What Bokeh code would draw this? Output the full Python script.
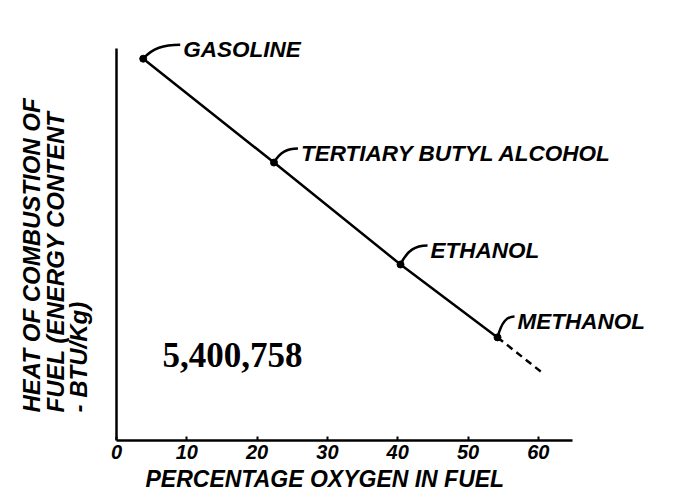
import numpy as np
from bokeh.plotting import figure
from bokeh.models import Label, FixedTicker, Range1d, ColumnDataSource, Title
from bokeh.embed import file_html
from bokeh.resources import INLINE
from bokeh.core.properties import value

# ---------------- data ----------------
fuels = ["GASOLINE", "TERTIARY BUTYL ALCOHOL", "ETHANOL", "METHANOL"]
oxygen_pct = [3.8, 22.4, 40.4, 54.2]          # % oxygen in fuel
heat_rel = [97.4, 70.9, 44.9, 26.3]           # relative heat of combustion (no scale given)
ext_oxygen = [54.2, 60.7]                     # dashed extrapolation
ext_heat = [26.3, 17.1]
x_ticks = [0, 10, 20, 30, 40, 50, 60]
x_axis_end = 64.8
y_axis_end = 100
y_label_lines = ["HEAT OF COMBUSTION OF", "FUEL (ENERGY CONTENT", "- BTU/Kg)"]
x_label = "PERCENTAGE OXYGEN IN FUEL"
note_value = "5,400,758"

# ---------------- layout ----------------
W, H = 700, 503
AX_X, FB = 116, 440          # page x of the y axis (x = 0), frame bottom
FL, FR, FT = 10, 690, 8      # frame left / right / top (px)
SX, SY = 7.03, 3.92          # px per data unit
X0 = -(AX_X - FL) / SX
X1 = (FR - AX_X) / SX
Y0 = 0
Y1 = Y0 + (FB - FT) / SY


def page_to_data(px, py):
    return (px - AX_X) / SX, Y0 + (FB - py) / SY


HAND = "Liberation Sans"

p = figure(width=W, height=H, x_range=Range1d(X0, X1), y_range=Range1d(Y0, Y1),
           output_backend="svg", toolbar_location=None,
           min_border_left=FL, min_border_right=W - FR,
           min_border_top=FT, min_border_bottom=H - FB)
p.grid.visible = False
p.outline_line_color = None
p.background_fill_color = "white"
p.border_fill_color = "white"

# x axis
p.xaxis.ticker = FixedTicker(ticks=x_ticks)
p.xaxis.bounds = (0, x_axis_end)
p.xaxis.axis_line_width = 2.5
p.xaxis.axis_line_color = "black"
p.xaxis.major_tick_in = 4
p.xaxis.major_tick_out = 0
p.xaxis.major_tick_line_width = 2
p.xaxis.minor_tick_line_color = None
p.xaxis.major_label_text_font = HAND
p.xaxis.major_label_text_font_style = "bold italic"
p.xaxis.major_label_text_font_size = "20px"
p.xaxis.major_label_text_color = "black"
p.xaxis.major_label_standoff = 4

# y axis: plain line at x = 0, no ticks
p.yaxis.ticker = FixedTicker(ticks=[])
p.yaxis.fixed_location = 0
p.yaxis.bounds = (0, y_axis_end)
p.yaxis.axis_line_width = 2.5
p.yaxis.axis_line_color = "black"
p.yaxis.major_tick_out = 0
p.yaxis.major_tick_in = 0
p.yaxis.minor_tick_line_color = None

# main line + dashed extension
p.line(oxygen_pct, heat_rel, line_color="black", line_width=2.5)
p.line(ext_oxygen, ext_heat, line_color="black", line_width=2.5, line_dash="7 5")

# labels with leaders (pixel offsets from each point, screen y down)
lab_dx = [40, 27, 30, 20]
lab_dy = [-9, -9, -14, -16]
lx, ly, x0s, y0s, x1s, y1s, c0x, c0y, c1x, c1y = ([] for _ in range(10))
for xo, yo, ddx, ddy in zip(oxygen_pct, heat_rel, lab_dx, lab_dy):
    lx.append(xo + ddx / SX)
    ly.append(yo - ddy / SY)
    ex, ey = ddx - 3, ddy - 5
    x0s.append(xo); y0s.append(yo)
    x1s.append(xo + ex / SX); y1s.append(yo - ey / SY)
    c0x.append(xo + 0.25 * ex / SX); c0y.append(yo - 0.75 * ey / SY)
    c1x.append(xo + 0.55 * ex / SX); c1y.append(yo - 1.0 * ey / SY)

src = ColumnDataSource(dict(x=lx, y=ly, text=fuels))
p.text(x="x", y="y", text="text", source=src, text_font=value(HAND),
       text_font_style="bold italic", text_font_size="22.5px", text_color="black",
       text_align="left", text_baseline="middle")
p.bezier(x0=x0s, y0=y0s, x1=x1s, y1=y1s, cx0=c0x, cy0=c0y, cx1=c1x, cy1=c1y,
         line_color="black", line_width=2.5)
p.scatter(oxygen_pct, heat_rel, size=7, color="black", marker="circle")

# y-axis label: three rotated lines, left aligned at the bottom
for txt, px in zip(y_label_lines, [31, 55, 78]):
    xd, yd = page_to_data(px, 412)
    p.add_layout(Label(x=xd, y=yd, text=txt, angle=np.pi / 2, text_font=HAND,
                       text_font_style="bold italic", text_font_size="24px",
                       text_color="black", text_align="left", text_baseline="middle"))

# x-axis label
p.add_layout(Title(text=x_label, align="left", offset=145 - FL, text_font=HAND,
                   text_font_style="bold italic", text_font_size="23px",
                   text_color="black", standoff=5), "below")

# note
xd, yd = page_to_data(162, 354)
p.add_layout(Label(x=xd, y=yd, text=note_value, text_font="Liberation Serif",
                   text_font_style="bold", text_font_size="35px", text_color="black",
                   text_align="left", text_baseline="middle"))

open("out.html", "w").write(file_html(p, INLINE))
